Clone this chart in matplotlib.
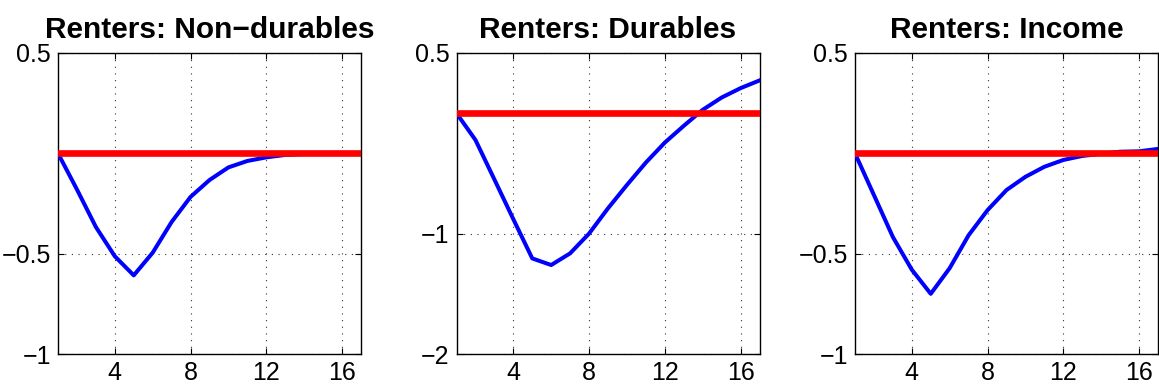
import matplotlib.pyplot as plt
import numpy as np

plt.rcParams['font.family'] = ['Liberation Sans', 'DejaVu Sans']

# horizon (quarters)
periods = np.arange(1, 18)

titles = ["Renters: Non\u2212durables", "Renters: Durables", "Renters: Income"]

nondurables = [0.0, -0.18, -0.367, -0.513, -0.608, -0.495, -0.342, -0.217, -0.133,
               -0.07, -0.038, -0.02, -0.008, -0.003, -0.001, 0.0, 0.0]
durables = [0.0, -0.222, -0.55, -0.88, -1.206, -1.261, -1.164, -1.0, -0.79,
            -0.596, -0.41, -0.244, -0.105, 0.028, 0.13, 0.208, 0.272]
income = [0.0, -0.208, -0.417, -0.58, -0.70, -0.572, -0.408, -0.283, -0.183,
          -0.117, -0.067, -0.033, -0.013, -0.002, 0.008, 0.01, 0.022]
baseline = [0.0] * 17

series = [nondurables, durables, income]
ylims = [(-1, 0.5), (-2, 0.5), (-1, 0.5)]
yticks = [[-1, -0.5, 0.5], [-2, -1, 0.5], [-1, -0.5, 0.5]]
ylabels = [["\u22121", "\u22120.5", "0.5"], ["\u22122", "\u22121", "0.5"], ["\u22121", "\u22120.5", "0.5"]]
xticks = [4, 8, 12, 16]

fig = plt.figure(figsize=(11.59, 3.92), dpi=100)
lefts = [58, 456.5, 855]
for i in range(3):
    ax = fig.add_axes([lefts[i] / 1159, 38 / 392, 303 / 1159, 301 / 392])
    ax.plot(periods, series[i], color='#0000ff', linewidth=2.9, zorder=3)
    ax.plot(periods, baseline, color='#ff0000', linewidth=4.8, zorder=4)
    ax.set_xlim(1, 17)
    ax.set_ylim(*ylims[i])
    ax.set_xticks(xticks)
    ax.set_yticks(yticks[i])
    ax.set_yticklabels(ylabels[i])
    ax.grid(True, color='#333333', linestyle=(0, (1, 5)), linewidth=0.8)
    ax.tick_params(direction='in', top=True, right=True, length=4, width=0.8,
                   labelsize=18, pad=5)
    for s in ax.spines.values():
        s.set_linewidth(1.0)
    ax.set_title(titles[i], fontsize=21.5, fontweight='bold', pad=11)

plt.savefig("out.png", dpi=100)
